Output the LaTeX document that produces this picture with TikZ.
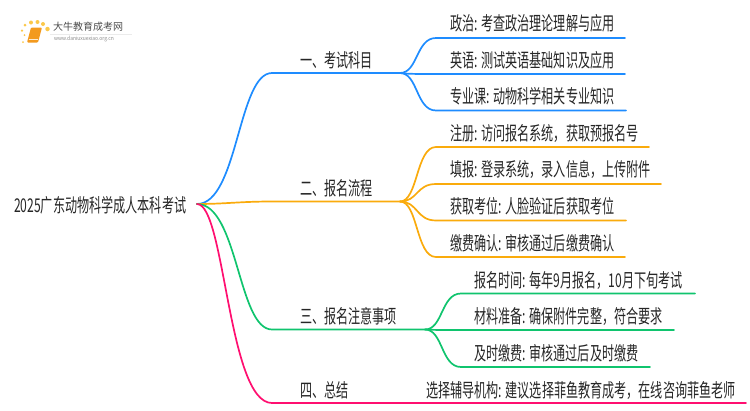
\documentclass[tikz,border=0pt]{standalone}
\usepackage{fontspec}
\setmainfont{Noto Sans CJK SC}
\tikzset{
  lbl/.style={anchor=west,inner sep=0pt,xscale=.637,text=black!85,font=\fontsize{19}{21}\selectfont},
  conn/.style={line width=1.7pt,line cap=round,line join=round},
  cblue/.style={conn,draw=bl},
  corange/.style={conn,draw=og},
  cgreen/.style={conn,draw=gr},
  cpink/.style={conn,draw=pk},
  dotm/.style={circle,fill=dt,inner sep=0pt},
}
\definecolor{bl}{HTML}{1E8CFF}
\definecolor{og}{HTML}{FAAB0C}
\definecolor{gr}{HTML}{10C46E}
\definecolor{pk}{HTML}{FF0F70}
\definecolor{dt}{HTML}{FBC84A}
\definecolor{bk}{HTML}{F39A1E}
\begin{document}
\begin{tikzpicture}[x=1pt,y=-1pt]
\useasboundingbox (0,0) rectangle (750,410);
% logo
\fill[black!8] (50,33.5) rectangle (132,34);
\node[dotm,minimum size=2pt] (d1) at (23,42) {};
\node[dotm,minimum size=2pt] (d0) at (24.5,35) {};
\node[dotm,minimum size=2.5pt] (d2) at (22,30.5) {};
\node[dotm,minimum size=3pt] (d3) at (25,25) {};
\node[dotm,minimum size=4pt] (d4) at (31,22.5) {};
\node[dotm,minimum size=4pt] (d5) at (37.5,22) {};
\node[dotm,minimum size=4pt] (d6) at (43,24) {};
\node[dotm,minimum size=4.5pt] (d7) at (47.5,29) {};
\fill[bk,rounded corners=1pt] (31,27.5) -- (42,27.5) -- (38,42.5) -- (27,42.5) -- cycle;
\draw[white!80!bk,line width=.5pt] (28.5,39.5) -- (38,39.5);
\node[anchor=west,inner sep=0pt,text=black!70,font=\fontsize{10}{11}\selectfont] (lg1) at (53,27) {大牛教育成考网};
\node[anchor=west,inner sep=0pt,text=black!45,xscale=.9,font=\fontsize{5.5}{6}\selectfont] (lg2) at (54,38.5) {www.daniuxuexiao.org.cn};
% text
\node[lbl] (root) at (14,205) {2025广东动物科学成人本科考试};
\node[lbl] (a) at (300,60) {一、考试科目};
\node[lbl] (b) at (300,188) {二、报名流程};
\node[lbl] (c) at (300,316) {三、报名注意事项};
\node[lbl] (d) at (300,390) {四、总结};
\node[lbl] (a1) at (450,23) {政治: 考查政治理论理解与应用};
\node[lbl] (a2) at (450,60) {英语: 测试英语基础知识及应用};
\node[lbl] (a3) at (450,96) {专业课: 动物科学相关专业知识};
\node[lbl] (b1) at (450,133) {注册: 访问报名系统，获取预报名号};
\node[lbl] (b2) at (450,169) {填报: 登录系统，录入信息，上传附件};
\node[lbl] (b3) at (450,206) {获取考位: 人脸验证后获取考位};
\node[lbl] (b4) at (450,243) {缴费确认: 审核通过后缴费确认};
\node[lbl] (c1) at (474,280) {报名时间: 每年9月报名，10月下旬考试};
\node[lbl] (c2) at (474,316) {材料准备: 确保附件完整，符合要求};
\node[lbl] (c3) at (474,353) {及时缴费: 审核通过后及时缴费};
\node[lbl] (d1t) at (426,390) {选择辅导机构: 建议选择菲鱼教育成考，在线咨询菲鱼老师};
% junctions
\coordinate (r) at (197,204);
\coordinate (ja) at (400,73);
\coordinate (jb) at (400,201.5);
\coordinate (jc) at (425,329.5);
\coordinate (ea1) at (625,38);
\coordinate (ea2) at (625,74);
\coordinate (ea3) at (626,110.5);
\coordinate (eb1) at (649,147);
\coordinate (eb2) at (661,184);
\coordinate (eb3) at (626,220.5);
\coordinate (eb4) at (625,257);
\coordinate (ec1) at (695,293.5);
\coordinate (ec2) at (674,330);
\coordinate (ec3) at (650,367);
\coordinate (ed) at (746,403);
% children
\draw[cblue] (ja) .. controls (418,73) and (416,38) .. (436,38) -- (ea1);
\draw[cblue] (ja) .. controls (408,74) and (416,74) .. (436,74) -- (ea2);
\draw[cblue] (ja) .. controls (418,73) and (416,110.5) .. (436,110.5) -- (ea3);
\draw[corange] (jb) .. controls (418,201.5) and (416,147) .. (436,147) -- (eb1);
\draw[corange] (jb) .. controls (418,201.5) and (416,184) .. (436,184) -- (eb2);
\draw[corange] (jb) .. controls (418,201.5) and (416,220.5) .. (436,220.5) -- (eb3);
\draw[corange] (jb) .. controls (418,201.5) and (416,257) .. (436,257) -- (eb4);
\draw[cgreen] (jc) .. controls (443,329.5) and (441,293.5) .. (461,293.5) -- (ec1);
\draw[cgreen] (jc) .. controls (433,330) and (441,330) .. (461,330) -- (ec2);
\draw[cgreen] (jc) .. controls (443,329.5) and (441,367) .. (461,367) -- (ec3);
% main branches
\draw[cblue] (r) .. controls (238,204) and (238,73) .. (272,73) -- (ja);
\draw[corange] (r) .. controls (225,204) and (240,201.5) .. (272,201.5) -- (jb);
\draw[cgreen] (r) .. controls (238,204) and (238,329.5) .. (272,329.5) -- (jc);
\draw[cpink] (r) .. controls (225,204) and (228,403) .. (272,403) -- (ed);
\end{tikzpicture}
\end{document}
